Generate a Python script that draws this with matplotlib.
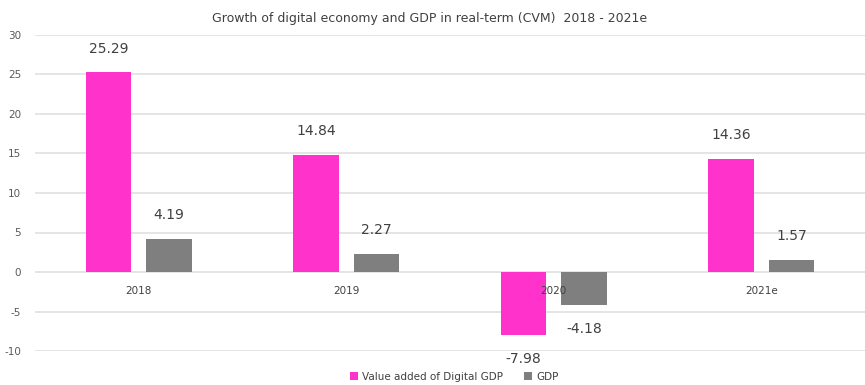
import matplotlib
matplotlib.use("Agg")
import matplotlib.pyplot as plt
import numpy as np

years = ["2018", "2019", "2020", "2021e"]
digital_gdp = [25.29, 14.84, -7.98, 14.36]
gdp = [4.19, 2.27, -4.18, 1.57]
yticks = [-10, -5, 0, 5, 10, 15, 20, 25, 30]

pink = "#FF33CC"
grey = "#7F7F7F"
txt = "#404040"

plt.rcParams["font.family"] = ["DejaVu Sans"]

fig = plt.figure(figsize=(8.65, 3.85), dpi=100)
ax = fig.add_axes([35 / 865, 34 / 385, 830 / 865, 316 / 385])

x = np.arange(len(years))
w = 0.22
off = 0.145
b1 = ax.bar(x - off, digital_gdp, w, color=pink, label="Value added of Digital GDP", zorder=3)
b2 = ax.bar(x + off, gdp, w, color=grey, label="GDP", zorder=3)

# value labels above / below each bar
for bars, vals in ((b1, digital_gdp), (b2, gdp)):
    for b, v in zip(bars, vals):
        cx = b.get_x() + b.get_width() / 2
        if v >= 0:
            ax.annotate(f"{v:.2f}", (cx, v), xytext=(0, 12), textcoords="offset points",
                        ha="center", va="bottom", fontsize=10, color=txt)
        else:
            ax.annotate(f"{v:.2f}", (cx, v), xytext=(0, -12), textcoords="offset points",
                        ha="center", va="top", fontsize=10, color=txt)

# category names sit just under the zero line
for xi, name in zip(x, years):
    ax.annotate(name, (xi, 0), xytext=(0, -14), textcoords="offset points",
                ha="center", va="center", fontsize=7.5, color=txt, zorder=4)

ax.set_xlim(-0.5, len(years) - 0.5)
ax.set_ylim(-10, 30)
ax.set_yticks(yticks)
ax.set_yticklabels([str(t) for t in yticks], fontsize=7.5, color="#595959")
ax.set_xticks([])
ax.tick_params(axis="y", length=0, pad=10)
ax.grid(axis="y", color="#E0E0E0", linewidth=1.2, zorder=0)
for s in ax.spines.values():
    s.set_visible(False)

fig.text(0.497, 0.953, "Growth of digital economy and GDP in real-term (CVM)  2018 - 2021e",
         ha="center", va="center", fontsize=9, color=txt)

fig.legend(handles=[b1, b2], loc="center", bbox_to_anchor=(0.525, 0.022), ncol=2,
           frameon=False, fontsize=7.5, handlelength=0.8, handleheight=0.9,
           columnspacing=2.0, handletextpad=0.4, labelcolor=txt)

fig.savefig("out.png", dpi=100)
